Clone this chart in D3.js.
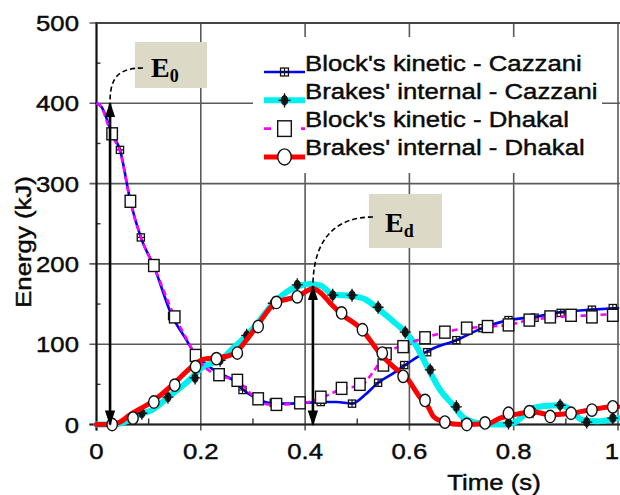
<!DOCTYPE html>
<html>
<head>
<meta charset="utf-8">
<script src="https://cdn.jsdelivr.net/npm/d3@7"></script>
<style>
  html, body { margin: 0; padding: 0; background: #fff; }
  svg { display: block; }
</style>
</head>
<body>
<svg id="chart" width="620" height="495"></svg>
<script>
// ---- data -------------------------------------------------------------
const xTicks = [0, 0.2, 0.4, 0.6, 0.8, 1];
const xTickLabels = ["0", "0.2", "0.4", "0.6", "0.8", "1"];
const yTicks = [0, 100, 200, 300, 400, 500];
const yTickLabels = ["0", "100", "200", "300", "400", "500"];
const xMinorTicks = [0.1, 0.3, 0.5, 0.7, 0.9];
const yMinorTicks = [50, 150, 250, 350, 450];

const seriesNames = [
  "Block's kinetic - Cazzani",
  "Brakes' internal - Cazzani",
  "Block's kinetic - Dhakal",
  "Brakes' internal - Dhakal"
];

// Block's kinetic energy, Cazzani (kJ)
const blockCazzaniT = [0, 0.01, 0.02, 0.03, 0.045, 0.065, 0.085, 0.11, 0.145, 0.17, 0.19, 0.21, 0.235, 0.26, 0.28, 0.305, 0.33, 0.36, 0.4, 0.43, 0.46, 0.49, 0.515, 0.54, 0.565, 0.592, 0.615, 0.64, 0.69, 0.74, 0.79, 0.84, 0.89, 0.95, 1.0];
const blockCazzaniE = [400, 395, 380, 362, 342, 278, 233, 197, 135, 108, 87, 75, 64, 56, 44, 33, 27, 26, 27, 28, 28, 26, 37, 52, 62, 74, 84, 93, 105, 120, 130, 134, 140, 143, 145];

// Brakes' internal energy, Cazzani (kJ)
const brakesCazzaniT = [0, 0.03, 0.05, 0.064, 0.085, 0.106, 0.141, 0.165, 0.185, 0.2, 0.22, 0.237, 0.262, 0.288, 0.313, 0.339, 0.36, 0.385, 0.409, 0.43, 0.453, 0.49, 0.515, 0.537, 0.566, 0.592, 0.614, 0.634, 0.659, 0.684, 0.703, 0.73, 0.76, 0.78, 0.8, 0.82, 0.837, 0.86, 0.889, 0.91, 0.93, 0.96, 1.0];
const brakesCazzaniE = [0, 0, 2, 6, 13, 18, 36, 48, 60, 70, 76, 80, 95, 111, 130, 151, 163, 172, 175, 173, 162, 160, 156, 146, 130, 115, 97, 72, 43, 24, 9, 2, 0, 0, 2, 12, 20, 23, 24, 18, 6, 4, 8];

// Block's kinetic energy, Dhakal (kJ)
const blockDhakalT = [0, 0.01, 0.02, 0.03, 0.045, 0.065, 0.085, 0.11, 0.15, 0.17, 0.19, 0.21, 0.24, 0.27, 0.29, 0.31, 0.33, 0.36, 0.4, 0.43, 0.47, 0.51, 0.53, 0.555, 0.59, 0.63, 0.668, 0.71, 0.75, 0.79, 0.83, 0.87, 0.91, 0.95, 1.0];
const blockDhakalE = [400, 395, 377, 360, 340, 278, 233, 197, 134, 110, 86, 70, 60, 55, 42, 30, 25, 25, 27, 33, 44, 50, 65, 88, 99, 108, 115, 120, 122, 124, 130, 133, 135, 136, 138];

// Brakes' internal energy, Dhakal (kJ)
const brakesDhakalT = [0, 0.03, 0.045, 0.064, 0.085, 0.106, 0.145, 0.183, 0.204, 0.227, 0.25, 0.266, 0.285, 0.307, 0.342, 0.365, 0.384, 0.415, 0.428, 0.447, 0.467, 0.509, 0.543, 0.569, 0.595, 0.62, 0.636, 0.646, 0.668, 0.7, 0.75, 0.774, 0.8, 0.837, 0.87, 0.908, 0.946, 0.99, 1.0];
const brakesDhakalE = [0, 0, 3, 12, 20, 28, 49, 72, 81, 83, 85, 89, 103, 122, 151, 156, 159, 169, 165, 152, 139, 118, 89, 72, 58, 34, 22, 10, 3, 0, 1, 8, 12, 16, 12, 14, 18, 22, 22];

// symbol positions on each curve
const blockCazzaniMarkT = [0.045, 0.085, 0.145, 0.19, 0.237, 0.28, 0.34, 0.39, 0.43, 0.49, 0.54, 0.59, 0.634, 0.69, 0.74, 0.79, 0.84, 0.89, 0.95, 0.99];
const blockCazzaniMarkE = [342, 233, 135, 87, 64, 43, 27, 28, 28, 26, 52, 74, 90, 105, 120, 130, 133, 139, 143, 145];
const brakesCazzaniMarkT = [0.03, 0.087, 0.137, 0.189, 0.237, 0.288, 0.339, 0.385, 0.453, 0.49, 0.54, 0.592, 0.64, 0.69, 0.79, 0.837, 0.889, 0.94, 0.99];
const brakesCazzaniMarkE = [0, 14, 34, 58, 80, 111, 151, 174, 161, 161, 146, 115, 68, 22, 2, 16, 24, 3, 8];
const blockDhakalMarkT = [0.03, 0.065, 0.11, 0.15, 0.19, 0.235, 0.27, 0.31, 0.345, 0.39, 0.43, 0.47, 0.505, 0.55, 0.555, 0.588, 0.63, 0.668, 0.71, 0.75, 0.79, 0.83, 0.87, 0.91, 0.95, 0.99];
const blockDhakalMarkE = [362, 278, 198, 134, 86, 62, 55, 32, 25, 27, 34, 45, 50, 74, 88, 97, 108, 115, 120, 122, 124, 130, 134, 136, 134, 136];
const brakesDhakalMarkT = [0.03, 0.07, 0.11, 0.15, 0.19, 0.23, 0.27, 0.31, 0.345, 0.385, 0.47, 0.51, 0.548, 0.588, 0.63, 0.668, 0.71, 0.745, 0.79, 0.83, 0.87, 0.91, 0.95, 0.99];
const brakesDhakalMarkE = [0, 8, 28, 49, 72, 82, 89, 122, 152, 159, 139, 118, 89, 60, 30, 3, 0, 2, 14, 16, 10, 14, 18, 22];

// initial energy and dissipated energy markers
const e0Time = 0.026, e0Value = 400;
const edTime = 0.415, edValue = 172;

// ---- drawing ------------------------------------------------------------
const svg = d3.select("#chart");
const plot = { left: 96.5, right: 618, top: 23, bottom: 424.5 };

const x = d3.scaleLinear().domain([0, 1]).range([plot.left, plot.right]);
const y = d3.scaleLinear().domain([0, 500]).range([plot.bottom, plot.top]);

const FONT = "'Liberation Sans', Arial, Helvetica, sans-serif";
const STRETCH = 1.12;

// text helper: glyphs are slightly wider than regular Arial
function label(parent, px, py, str, opts = {}) {
  const g = parent.append("g")
    .attr("transform", `translate(${px},${py})` + (opts.rotate ? ` rotate(${opts.rotate})` : "") + ` scale(${opts.stretch || STRETCH},1)`);
  g.append("text")
    .attr("x", 0).attr("y", 0)
    .attr("text-anchor", opts.anchor || "start")
    .attr("dominant-baseline", opts.baseline || "auto")
    .attr("font-family", FONT)
    .attr("font-size", opts.size || 23)
    .attr("fill", "#0a0a0a")
    .attr("stroke", "#0a0a0a")
    .attr("stroke-width", 0.45)
    .text(str);
  return g;
}

// grid lines
const grid = svg.append("g");
grid.selectAll(".gx").data(xTicks).join("line")
  .attr("x1", d => x(d)).attr("x2", d => x(d))
  .attr("y1", plot.top).attr("y2", plot.bottom + 6)
  .attr("stroke", "#5a5a5a").attr("stroke-width", 1.6);
grid.selectAll(".gy").data(yTicks).join("line")
  .attr("x1", plot.left - 7).attr("x2", plot.right + 2)
  .attr("y1", d => y(d)).attr("y2", d => y(d))
  .attr("stroke", "#5a5a5a").attr("stroke-width", 1.6);

// minor ticks, pointing inward
grid.selectAll(".mx").data(xMinorTicks).join("line")
  .attr("x1", d => x(d)).attr("x2", d => x(d))
  .attr("y1", plot.bottom).attr("y2", plot.bottom - 6)
  .attr("stroke", "#333").attr("stroke-width", 1.4);
grid.selectAll(".my").data(yMinorTicks).join("line")
  .attr("x1", plot.left).attr("x2", plot.left + 4)
  .attr("y1", d => y(d)).attr("y2", d => y(d))
  .attr("stroke", "#333").attr("stroke-width", 1.4);

// axis lines
svg.append("line").attr("x1", plot.left).attr("x2", plot.left)
  .attr("y1", plot.top - 1).attr("y2", plot.bottom + 6)
  .attr("stroke", "#111").attr("stroke-width", 2);
svg.append("line").attr("x1", plot.left - 7).attr("x2", plot.right + 2)
  .attr("y1", plot.bottom).attr("y2", plot.bottom)
  .attr("stroke", "#222").attr("stroke-width", 2);
svg.append("line").attr("x1", plot.left).attr("x2", plot.right + 2)
  .attr("y1", plot.top).attr("y2", plot.top)
  .attr("stroke", "#444").attr("stroke-width", 2);

// tick labels
const tl = svg.append("g");
yTicks.forEach((v, i) => label(tl, 79, y(v), yTickLabels[i], { anchor: "end", baseline: "central" }));
xTicks.forEach((v, i) => label(tl, Math.min(x(v), 612), 451, xTickLabels[i], { anchor: "middle", baseline: "central" }));

// axis titles
label(svg, 494, 490, "Time (s)", { anchor: "middle" });
label(svg, 31, 242, "Energy (kJ)", { anchor: "middle", rotate: -90 });

// marker shapes
function drawMarker(g, kind, cx, cy, scale = 1) {
  if (kind === "crossSquare") {
    const s = 3.6 * scale;
    g.append("rect").attr("x", cx - s).attr("y", cy - s).attr("width", 2 * s).attr("height", 2 * s)
      .attr("fill", "none").attr("stroke", "#111").attr("stroke-width", 1.3);
    g.append("path").attr("d", `M${cx - s},${cy}H${cx + s}M${cx},${cy - s}V${cy + s}`)
      .attr("stroke", "#111").attr("stroke-width", 1.1);
  } else if (kind === "crossBlob") {
    g.append("ellipse").attr("cx", cx).attr("cy", cy).attr("rx", 3 * scale).attr("ry", 4.4 * scale)
      .attr("fill", "#1a1a1a").attr("stroke", "#111").attr("stroke-width", 1);
    g.append("path").attr("d", `M${cx - 5.5 * scale},${cy}H${cx + 5.5 * scale}M${cx},${cy - 6.5 * scale}V${cy + 6.5 * scale}`)
      .attr("stroke", "#111").attr("stroke-width", 1.3);
  } else if (kind === "square") {
    const w = 10.5 * scale, h = 12 * scale;
    g.append("rect").attr("x", cx - w / 2).attr("y", cy - h / 2).attr("width", w).attr("height", h)
      .attr("fill", "#fff").attr("stroke", "#111").attr("stroke-width", 1.4);
  } else if (kind === "circle") {
    g.append("ellipse").attr("cx", cx).attr("cy", cy).attr("rx", 5.2 * scale).attr("ry", 6.2 * scale)
      .attr("fill", "#fff").attr("stroke", "#111").attr("stroke-width", 1.4);
  }
}

const series = [
  { name: seriesNames[0], t: blockCazzaniT, e: blockCazzaniE, mt: blockCazzaniMarkT, me: blockCazzaniMarkE,
    color: "#0000ff", width: 2.6, dash: null, marker: "crossSquare" },
  { name: seriesNames[1], t: brakesCazzaniT, e: brakesCazzaniE, mt: brakesCazzaniMarkT, me: brakesCazzaniMarkE,
    color: "#00f0f0", width: 6, dash: null, marker: "crossBlob" },
  { name: seriesNames[2], t: blockDhakalT, e: blockDhakalE, mt: blockDhakalMarkT, me: blockDhakalMarkE,
    color: "#ff00ff", width: 2.6, dash: "6,4", marker: "square" },
  { name: seriesNames[3], t: brakesDhakalT, e: brakesDhakalE, mt: brakesDhakalMarkT, me: brakesDhakalMarkE,
    color: "#ff0000", width: 5, dash: null, marker: "circle" }
];

const line = d3.line().x(d => x(d[0])).y(d => y(d[1])).curve(d3.curveMonotoneX);

series.forEach(s => {
  const g = svg.append("g");
  g.append("path")
    .datum(d3.zip(s.t, s.e))
    .attr("d", line)
    .attr("fill", "none")
    .attr("stroke", s.color)
    .attr("stroke-width", s.width)
    .attr("stroke-linejoin", "round")
    .attr("stroke-linecap", s.dash ? "butt" : "round")
    .attr("stroke-dasharray", s.dash);
  d3.zip(s.mt, s.me).forEach(([t, e]) => drawMarker(g, s.marker, x(t), y(e)));
});

// legend
const legend = svg.append("g");
legend.append("rect").attr("x", 253).attr("y", 37).attr("width", 349).attr("height", 136).attr("fill", "#fff");
series.forEach((s, i) => {
  const ly = 72 + i * 28.3;
  legend.append("line").attr("x1", 264).attr("x2", 305).attr("y1", ly).attr("y2", ly)
    .attr("stroke", s.color).attr("stroke-width", s.width)
    .attr("stroke-dasharray", s.dash ? "8,11" : null)
    .attr("stroke-dashoffset", s.dash ? 1 : null);
  drawMarker(legend, s.marker, 284.5, ly, s.marker === "square" || s.marker === "circle" ? 1.3 : 1.1);
  label(legend, 305, ly - 1.5, s.name, { size: 23 });
});

// annotations: E0 and Ed arrows with labels
const defs = svg.append("defs");
defs.append("marker").attr("id", "head").attr("viewBox", "0 0 10 6.6")
  .attr("refX", 9).attr("refY", 3.3).attr("markerWidth", 6).attr("markerHeight", 4)
  .attr("markerUnits", "strokeWidth").attr("orient", "auto-start-reverse")
  .append("path").attr("d", "M0,0L10,3.3L0,6.6Z").attr("fill", "#000");

const ann = svg.append("g");
function doubleArrow(t, v) {
  ann.append("line")
    .attr("x1", x(t)).attr("x2", x(t))
    .attr("y1", y(v)).attr("y2", y(0))
    .attr("stroke", "#000").attr("stroke-width", 2.6)
    .attr("marker-start", "url(#head)").attr("marker-end", "url(#head)");
}
doubleArrow(e0Time, e0Value);
doubleArrow(edTime, edValue);

function tag(bx, by, bw, bh, main, sub, dx, base) {
  ann.append("rect").attr("x", bx).attr("y", by).attr("width", bw).attr("height", bh).attr("fill", "#dcd9c6");
  const t = ann.append("text").attr("x", bx + dx).attr("y", by + base)
    .attr("font-family", "'Liberation Serif', 'Times New Roman', serif")
    .attr("font-weight", "bold").attr("font-size", 28).attr("fill", "#000");
  t.append("tspan").text(main);
  t.append("tspan").attr("font-size", 18).attr("dy", 5).text(sub);
}
tag(135, 42, 72, 46, "E", "0", 16, 35);
tag(369, 194, 73, 54, "E", "d", 16, 38);

// dashed leader lines from the labels to the arrows
ann.append("path")
  .attr("d", `M143,68 C120,68 ${x(e0Time)},76 ${x(e0Time)},${y(e0Value) - 2}`)
  .attr("fill", "none").attr("stroke", "#000").attr("stroke-width", 1.6).attr("stroke-dasharray", "5,3");
ann.append("path")
  .attr("d", `M373,217 C338,217 ${x(edTime) + 1},236 ${x(edTime)},${y(edValue) - 2}`)
  .attr("fill", "none").attr("stroke", "#000").attr("stroke-width", 1.6).attr("stroke-dasharray", "5,3");
</script>
</body>
</html>
